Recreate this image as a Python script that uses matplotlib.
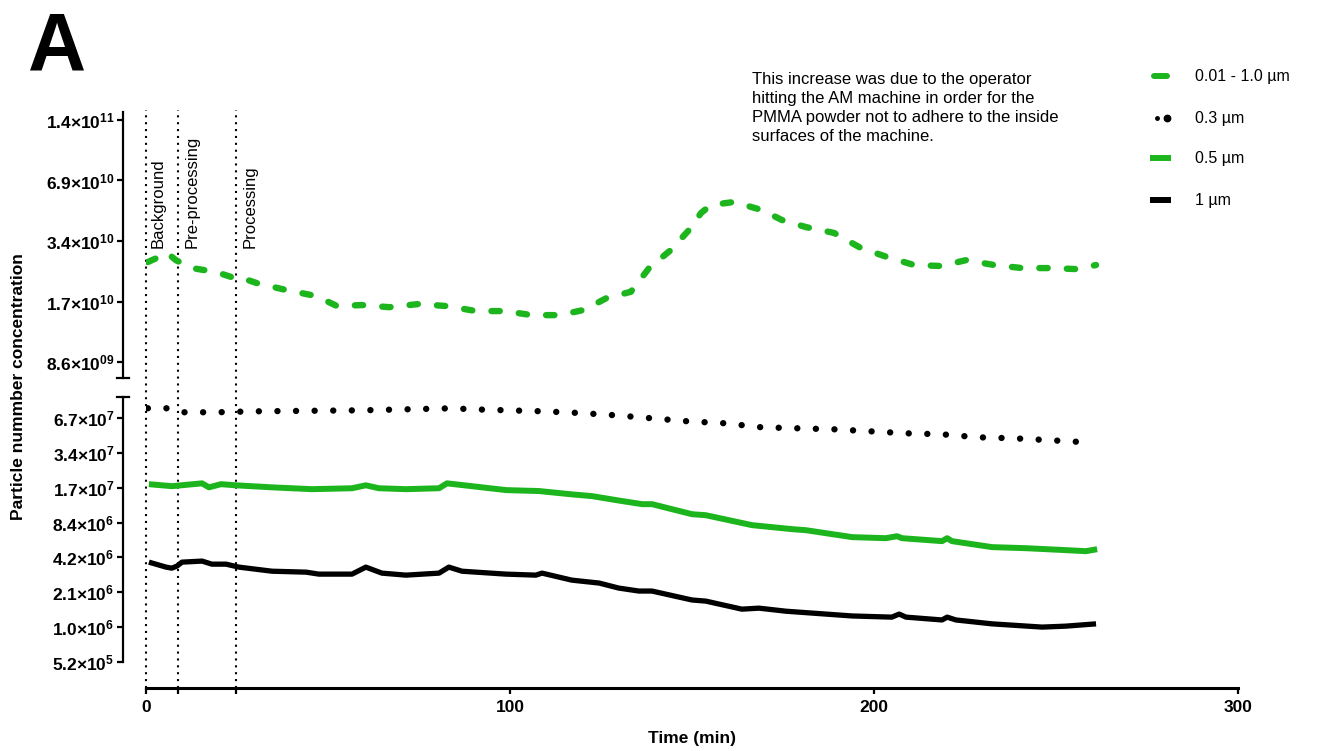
import matplotlib
matplotlib.use('Agg')
import matplotlib.pyplot as plt
from matplotlib.lines import Line2D

plt.rcParams['font.family'] = ['Liberation Sans', 'DejaVu Sans']
plt.rcParams['mathtext.fontset'] = 'custom'
plt.rcParams['mathtext.rm'] = 'Liberation Sans'
plt.rcParams['mathtext.bf'] = 'Liberation Sans:bold'
plt.rcParams['mathtext.it'] = 'Liberation Sans:italic'

# ---------------- data ----------------
# 0.01 - 1.0 um (upper panel)
t_pn = [0.5, 3.0, 5.8, 8.2, 12.6, 19.2, 23.6, 24.7, 30.5, 38.5, 46.7, 52.5, 59.3, 66.8,
        75.0, 82.7, 90.7, 98.4, 106.0, 113.5, 120.3, 126.6, 133.2, 138.2, 144.2, 149.2,
        152.5, 155.2, 161.5, 169.2, 174.7, 181.3, 189.0, 196.4, 203.6, 211.0, 218.4,
        225.3, 233.0, 240.7, 248.6, 255.8, 261.0]
pn = [2.70e10, 2.83e10, 3.00e10, 2.76e10, 2.52e10, 2.41e10, 2.27e10, 2.30e10, 2.12e10,
      1.96e10, 1.83e10, 1.63e10, 1.65e10, 1.61e10, 1.67e10, 1.63e10, 1.54e10, 1.54e10,
      1.47e10, 1.47e10, 1.56e10, 1.79e10, 1.92e10, 2.52e10, 3.10e10, 3.90e10, 4.74e10,
      5.19e10, 5.37e10, 4.90e10, 4.37e10, 4.03e10, 3.77e10, 3.17e10, 2.86e10, 2.61e10,
      2.58e10, 2.76e10, 2.61e10, 2.52e10, 2.52e10, 2.49e10, 2.61e10]

# 0.3 um
t_03 = [0.5, 5.8, 9.9, 19.5, 29.7, 59.6, 84.3, 89.3, 109.3, 119.5, 129.1, 139.0, 148.9,
        159.1, 169.0, 178.8, 189.0, 198.9, 208.8, 218.7, 228.6, 238.5, 248.6, 258.2]
p03 = [8.14e7, 8.14e7, 7.52e7, 7.52e7, 7.66e7, 7.82e7, 8.14e7, 7.98e7, 7.66e7, 7.40e7,
       7.08e7, 6.67e7, 6.28e7, 6.04e7, 5.58e7, 5.47e7, 5.36e7, 5.15e7, 4.95e7, 4.85e7,
       4.57e7, 4.48e7, 4.31e7, 4.14e7]

# 0.5 um
t_05 = [0.8, 7.1, 15.4, 17.3, 20.6, 24.7, 34.6, 45.6, 56.6, 60.4, 64.0, 71.4, 80.5, 82.7,
        89.5, 98.9, 108.0, 117.0, 122.5, 129.9, 136.3, 139.0, 150.0, 153.8, 166.5, 177.5,
        181.3, 194.0, 203.3, 206.3, 207.7, 218.7, 220.1, 221.4, 232.4, 241.8, 252.7,
        258.2, 261.3]
p05 = [1.80e7, 1.73e7, 1.83e7, 1.69e7, 1.80e7, 1.76e7, 1.69e7, 1.63e7, 1.66e7, 1.76e7,
       1.66e7, 1.63e7, 1.66e7, 1.83e7, 1.73e7, 1.60e7, 1.57e7, 1.47e7, 1.42e7, 1.30e7,
       1.21e7, 1.21e7, 9.91e6, 9.71e6, 7.97e6, 7.36e6, 7.21e6, 6.28e6, 6.15e6, 6.40e6,
       6.15e6, 5.80e6, 6.15e6, 5.80e6, 5.15e6, 5.04e6, 4.85e6, 4.75e6, 4.94e6]

# 1 um
t_1 = [0.8, 5.5, 7.1, 8.5, 9.9, 15.4, 18.1, 22.0, 25.5, 34.6, 44.0, 47.5, 56.6, 60.4,
       64.8, 71.4, 80.5, 83.2, 86.8, 98.9, 107.1, 108.8, 117.0, 124.5, 129.9, 135.4,
       139.0, 150.0, 153.8, 163.7, 168.4, 175.8, 194.0, 204.9, 206.9, 208.8, 218.7,
       220.1, 222.5, 232.4, 246.2, 252.7, 261.0]
p1 = [3.82e6, 3.46e6, 3.39e6, 3.53e6, 3.82e6, 3.90e6, 3.67e6, 3.67e6, 3.46e6, 3.19e6,
      3.13e6, 3.01e6, 3.01e6, 3.46e6, 3.07e6, 2.95e6, 3.07e6, 3.46e6, 3.19e6, 3.01e6,
      2.95e6, 3.07e6, 2.67e6, 2.52e6, 2.28e6, 2.15e6, 2.15e6, 1.80e6, 1.76e6, 1.50e6,
      1.53e6, 1.44e6, 1.31e6, 1.28e6, 1.36e6, 1.28e6, 1.21e6, 1.28e6, 1.21e6, 1.12e6,
      1.05e6, 1.07e6, 1.12e6]

phase_t = [0, 8.8, 24.7]
phase_labels = ['Background', 'Pre-processing', 'Processing']

hi_ticks = [2**33, 2**34, 2**35, 2**36, 2**37]
hi_labels = [r'$\mathbf{8.6{\times}10^{09}}$', r'$\mathbf{1.7{\times}10^{10}}$',
             r'$\mathbf{3.4{\times}10^{10}}$', r'$\mathbf{6.9{\times}10^{10}}$',
             r'$\mathbf{1.4{\times}10^{11}}$']
lo_ticks = [2**19, 2**20, 2**21, 2**22, 2**23, 2**24, 2**25, 2**26]
lo_labels = [r'$\mathbf{5.2{\times}10^{5}}$', r'$\mathbf{1.0{\times}10^{6}}$',
             r'$\mathbf{2.1{\times}10^{6}}$', r'$\mathbf{4.2{\times}10^{6}}$',
             r'$\mathbf{8.4{\times}10^{6}}$', r'$\mathbf{1.7{\times}10^{7}}$',
             r'$\mathbf{3.4{\times}10^{7}}$', r'$\mathbf{6.7{\times}10^{7}}$']
x_ticks = [0, 100, 200, 300]

series_names = ['0.01 - 1.0 µm', '0.3 µm', '0.5 µm', '1 µm']
GREEN = '#1db51d'

note = ("This increase was due to the operator\n"
        "hitting the AM machine in order for the\n"
        "PMMA powder not to adhere to the inside\n"
        "surfaces of the machine.")

# ---------------- figure ----------------
W, H = 1333, 751
fig = plt.figure(figsize=(W / 100, H / 100), dpi=100)

ax_lo = fig.add_axes([146 / W, 1 - 688 / H, 1092 / W, 291 / H])
ax_hi = fig.add_axes([146 / W, 1 - 378 / H, 1092 / W, 266 / H], sharex=ax_lo)

for ax in (ax_lo, ax_hi):
    ax.set_yscale('log', base=2)
    ax.spines['top'].set_visible(False)
    ax.spines['right'].set_visible(False)
    ax.spines['left'].set_position(('outward', 16.6))
    ax.spines['left'].set_linewidth(1.6)
    ax.minorticks_off()
    ax.tick_params(axis='y', which='both', direction='out', length=4.5, width=1.6,
                   pad=1.5, labelsize=12.5)
    ax.patch.set_alpha(0)

ax_lo.set_xlim(0, 300)
ax_lo.set_ylim(2**18.255, 2**26.602)
ax_hi.set_ylim(2**32.736, 2**37.132)

ax_hi.set_yticks(hi_ticks)
ax_hi.set_yticklabels(hi_labels)
ax_lo.set_yticks(lo_ticks)
ax_lo.set_yticklabels(lo_labels)
ax_lo.spines['left'].set_bounds(2**19, 2**26.602)

ax_hi.spines['bottom'].set_visible(False)
ax_hi.tick_params(axis='x', which='both', bottom=False, labelbottom=False)

ax_lo.spines['bottom'].set_bounds(0, 300)
ax_lo.spines['bottom'].set_linewidth(2.2)
ax_lo.set_xticks(x_ticks)
ax_lo.set_xticklabels([str(v) for v in x_ticks], fontweight='bold')
ax_lo.set_xticks(phase_t[1:], minor=True)
ax_lo.tick_params(axis='x', which='both', direction='out', length=4.5, width=1.6,
                  labelsize=12.5, pad=4)

# phase separators
for tp in phase_t:
    ax_lo.axvline(tp, 0, (688 - 110) / 291, color='black', lw=1.5,
                  ls=(0, (1, 2.3)), clip_on=False, zorder=1)

# series
ax_hi.plot(t_pn, pn, color=GREEN, lw=4.6, dashes=(1.3, 3.0),
           dash_capstyle='round', solid_joinstyle='round', zorder=3)
ax_lo.plot(t_03, p03, color='black', lw=4.6, linestyle=(0, (0.01, 2.9)),
           dash_capstyle='round', zorder=3)
ax_lo.plot(t_05, p05, color=GREEN, lw=4.3, solid_capstyle='butt', zorder=3)
ax_lo.plot(t_1, p1, color='black', lw=3.8, solid_capstyle='butt', zorder=3)

# axis break caps
for yb in (378, 397):
    fig.add_artist(Line2D([117 / W, 129 / W], [1 - yb / H, 1 - yb / H],
                          color='black', lw=1.6, transform=fig.transFigure))

# phase labels
for tp, lab, xs in zip(phase_t, phase_labels, [158, 192, 250]):
    fig.text(xs / W, 1 - 248 / H, lab, rotation=90, ha='center', va='bottom',
             fontsize=12)

# axis titles
fig.text(19 / W, 1 - 387 / H, 'Particle nummber concentration', rotation=90,
         ha='center', va='center', fontsize=12.5, fontweight='bold')
fig.text(692 / W, 1 - 738 / H, 'Time (min)', ha='center', va='center',
         fontsize=12.5, fontweight='bold')

# panel letter
fig.text(28 / W, 1 - 70 / H, 'A', fontsize=58, fontweight='bold', va='baseline',
         ha='left')

# note
fig.text(752 / W, 1 - 72 / H, note, ha='left', va='top', fontsize=12,
         linespacing=1.32)

# legend (manual)
leg_y = [76, 118, 158, 200]
fig.add_artist(Line2D([1154 / W, 1167 / W], [1 - leg_y[0] / H] * 2, color=GREEN,
                      lw=4.3, solid_capstyle='round', transform=fig.transFigure))
fig.add_artist(Line2D([1157 / W], [1 - leg_y[1] / H], marker='o', ms=2.5,
                      color='black', lw=0, transform=fig.transFigure))
fig.add_artist(Line2D([1167 / W], [1 - leg_y[1] / H], marker='o', ms=4.6,
                      color='black', lw=0, transform=fig.transFigure))
fig.add_artist(Line2D([1150 / W, 1171 / W], [1 - leg_y[2] / H] * 2, color=GREEN,
                      lw=4.3, solid_capstyle='butt', transform=fig.transFigure))
fig.add_artist(Line2D([1150 / W, 1171 / W], [1 - leg_y[3] / H] * 2, color='black',
                      lw=4.3, solid_capstyle='butt', transform=fig.transFigure))
for yy, name in zip(leg_y, series_names):
    fig.text(1195 / W, 1 - yy / H, name, ha='left', va='center', fontsize=11.5)

fig.savefig('out.png', dpi=100)
